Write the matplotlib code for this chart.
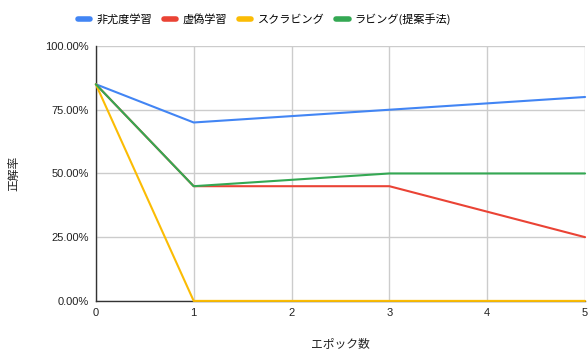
import matplotlib
matplotlib.use("Agg")
import matplotlib.pyplot as plt
from matplotlib.ticker import PercentFormatter

plt.rcParams['font.family'] = ['Noto Sans CJK JP', 'DejaVu Sans']

# データ
epochs = [0, 1, 3, 5]
series_names = ['非尤度学習', '虚偽学習', 'スクラビング', 'ラビング(提案手法)']
unlikelihood = [85, 70, 75, 80]
false_learning = [85, 45, 45, 25]
scrubbing = [85, 0, 0, 0]
rubbing = [85, 45, 50, 50]
colors = ['#4285F4', '#EA4335', '#FBBC04', '#34A853']

fig = plt.figure(figsize=(5.88, 3.54), dpi=100)
ax = fig.add_axes([0.163, 0.150, 0.832, 0.720])

for i, (name, vals) in enumerate(zip(series_names,
                                     [unlikelihood, false_learning, scrubbing, rubbing])):
    ax.plot(epochs, vals, color=colors[i], linewidth=1.5, label=name,
            zorder=3 + i, clip_on=False, solid_capstyle='round')

ax.set_xlim(0, 5)
ax.set_ylim(0, 100)
ax.set_xticks(range(6))
ax.set_yticks([0, 25, 50, 75, 100])
ax.yaxis.set_major_formatter(PercentFormatter(decimals=2))
ax.grid(True, color='#cccccc', linewidth=1)
ax.set_axisbelow(True)
for s in ['top', 'right']:
    ax.spines[s].set_visible(False)
for s in ['left', 'bottom']:
    ax.spines[s].set_color('#333333')
    ax.spines[s].set_linewidth(1)
ax.tick_params(length=0, labelsize=8, colors='#222222', pad=5)
for lab in ax.get_xticklabels() + ax.get_yticklabels():
    lab.set_family(['Liberation Sans', 'DejaVu Sans'])

ax.set_xlabel('エポック数', fontsize=8.5, color='#222222', labelpad=14)
ax.set_ylabel('正解率', fontsize=8.5, color='#222222', labelpad=18)

leg = fig.legend(loc='center', bbox_to_anchor=(0.45, 0.946), ncol=4, frameon=False,
                 fontsize=8, handlelength=1.1, handletextpad=0.55, columnspacing=1.1)
for h in leg.get_lines():
    h.set_linewidth(4)

fig.savefig('out.png', dpi=100)
